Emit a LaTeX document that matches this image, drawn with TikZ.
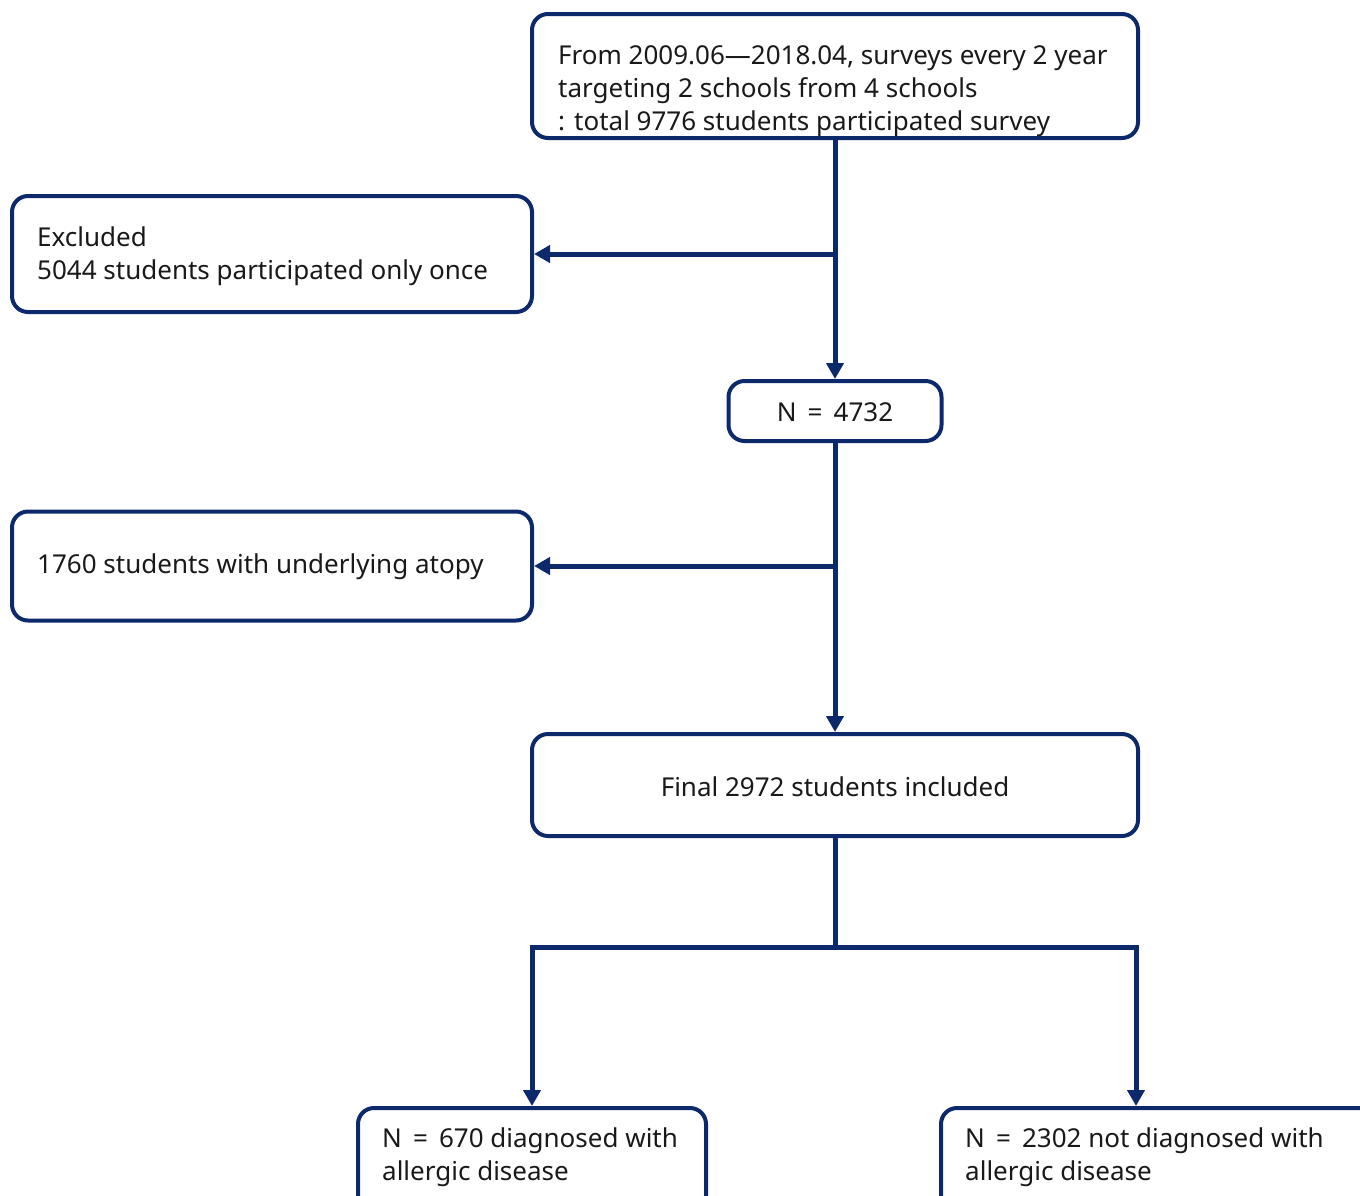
\documentclass[tikz,border=0pt]{standalone}
\usepackage{fontspec}
\setmainfont{Noto Sans}
\usetikzlibrary{arrows.meta}
\definecolor{navy}{RGB}{12,41,107}
\begin{document}
\begin{tikzpicture}[x=1pt,y=-1pt,
 box/.style={draw=navy, line width=4pt, rounded corners=16pt, inner sep=0pt},
 txt/.style={inner sep=0pt, align=left, font=\fontsize{26}{33}\selectfont, text=black!90},
 conn/.style={draw=navy, line width=5pt},
 arr/.style={conn, -{Triangle[length=16pt,width=17pt]}}]
\clip (0,0) rectangle (1360,1195);
\useasboundingbox (0,0) rectangle (1360,1195);
% boxes
\node[box, minimum width=606pt, minimum height=124pt] (top) at (835,76) {};
\node[box, minimum width=520pt, minimum height=116pt] (excl) at (272,254) {};
\node[box, minimum width=213pt, minimum height=60pt] (n4732) at (835,411) {};
\node[box, minimum width=520pt, minimum height=109pt] (atopy) at (272,566) {};
\node[box, minimum width=606pt, minimum height=102pt] (final) at (835,785) {};
\node[box, minimum width=348pt, minimum height=112pt] (bl) at (532,1164) {};
\node[box, minimum width=459pt, minimum height=112pt] (br) at (1170.5,1164) {};
% texts
\node[txt, anchor=west] (toptext) at (558,91) {From 2009.06\textemdash2018.04, surveys every 2 year\\targeting 2 schools from 4 schools\\: total 9776 students participated survey};
\node[txt, anchor=west] (excltext) at (37,256) {Excluded\\5044 students participated only once};
\node[txt] (ntext) at (835,412) {N \,=\, 4732};
\node[txt, anchor=west] (atopytext) at (37,567) {1760 students with underlying atopy};
\node[txt] (finaltext) at (835,787) {Final 2972 students included};
\node[txt, anchor=west] (bltext) at (382,1157) {N \,=\, 670 diagnosed with\\allergic disease};
\node[txt, anchor=west] (brtext) at (965,1157) {N \,=\, 2302 not diagnosed with\\allergic disease};
% connectors
\draw[arr] (top.south) -- (n4732.north);
\draw[arr] (top.south |- excl.east) -- (excl.east);
\draw[arr] (n4732.south) -- (final.north);
\draw[arr] (n4732.south |- atopy.east) -- (atopy.east);
\coordinate (split) at (835,947);
\draw[conn] (final.south) -- (split);
\draw[arr] (split) -| (bl.north);
\draw[arr] (split) -| ([xshift=197pt]br.north west);
\end{tikzpicture}
\end{document}
